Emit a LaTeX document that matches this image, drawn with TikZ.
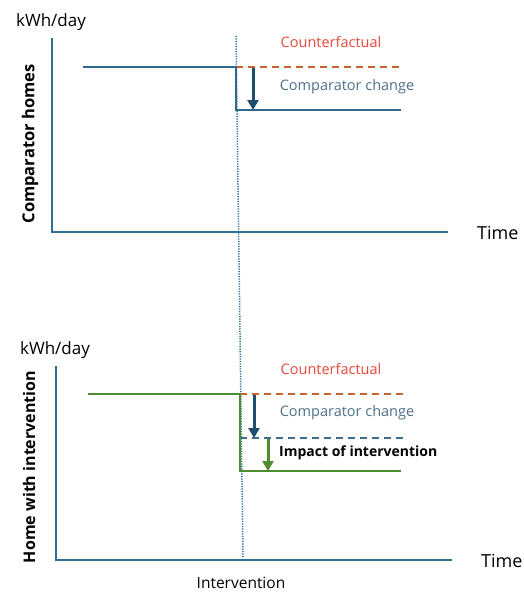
\documentclass[tikz,border=0pt]{standalone}
\usepackage{fontspec}
\setmainfont{Open Sans}
\usetikzlibrary{arrows.meta}
\definecolor{axisblue}{HTML}{2F6F94}
\definecolor{lineblue}{HTML}{2E6A8C}
\definecolor{darkblue}{HTML}{1E4E6C}
\definecolor{cfred}{HTML}{E8483C}
\definecolor{dashorange}{HTML}{C8632E}
\definecolor{compblue}{HTML}{4D7189}
\definecolor{dashblue}{HTML}{3D6E8E}
\definecolor{lgreen}{HTML}{4E8C2F}
\tikzset{
  axisline/.style={draw=axisblue, line width=2pt},
  seriesblue/.style={draw=lineblue, line width=2pt},
  seriesgreen/.style={draw=lgreen, line width=1.8pt},
  cfdash/.style={draw=dashorange, line width=2pt, dash pattern=on 7pt off 5pt},
  compdash/.style={draw=dashblue, line width=2pt, dash pattern=on 7pt off 5pt},
  darrow/.style={draw=darkblue, line width=3pt, -{Triangle[width=11pt,length=10pt]}},
  garrow/.style={draw=lgreen, line width=3pt, -{Triangle[width=11pt,length=10pt]}},
  ivline/.style={draw=axisblue, line width=1.5pt, dash pattern=on 1.2pt off 1.3pt},
  lbl/.style={inner sep=0pt, font=\fontsize{14.5}{17}\selectfont},
  unitlbl/.style={inner sep=0pt, font=\fontsize{17}{20}\selectfont},
  timelbl/.style={inner sep=0pt, font=\fontsize{18}{21}\selectfont},
  ylbl/.style={inner sep=0pt, rotate=90, font=\bfseries\fontsize{16.5}{19}\selectfont},
}
\begin{document}
\begin{tikzpicture}[x=1pt,y=-1pt]
\useasboundingbox[fill=white] (0,0) rectangle (523,594);
% intervention dotted line
\coordinate (ivtop) at (236,36);
\coordinate (ivbot) at (243,557);
\draw[ivline] (ivtop) -- (ivbot);
% ---------- top panel ----------
\coordinate (o1) at (52,232);
\coordinate (y1) at (52,38);
\coordinate (x1) at (448,232);
\draw[axisline] (y1) -- (o1) -- (x1);
\node[unitlbl] (u1) at (51,22) {kWh/day};
\node[timelbl, anchor=west] (t1) at (477,233) {Time};
\node[ylbl] (yl1) at (30,144) {Comparator homes};
\coordinate (a1) at (83,67);
\coordinate (a2) at (236,67);
\coordinate (a3) at (236,110);
\coordinate (a4) at (401,110);
\coordinate (c1) at (402,67);
\draw[cfdash] (a2) -- (c1);
\draw[seriesblue] (a1) -- (a2) -- (a3) -- (a4);
\coordinate (ar1s) at (253,68);
\coordinate (ar1e) at (253,110);
\draw[darrow] (ar1s) -- (ar1e);
\node[lbl, text=cfred] (cf1) at (331,42) {Counterfactual};
\node[lbl, text=compblue] (cc1) at (347,87) {Comparator change};
% ---------- bottom panel ----------
\coordinate (o2) at (56,560);
\coordinate (y2) at (56,366);
\coordinate (x2) at (452,560);
\draw[axisline] (y2) -- (o2) -- (x2);
\node[unitlbl] (u2) at (55,350) {kWh/day};
\node[timelbl, anchor=west] (t2) at (481,561) {Time};
\node[ylbl, font=\bfseries\fontsize{16}{19}\selectfont] (yl2) at (29,467) {Home with intervention};
\node[lbl, font=\fontsize{15.5}{18}\selectfont] (iv) at (241,583) {Intervention};
\coordinate (b1) at (88,394);
\coordinate (b2) at (240,394);
\coordinate (b3) at (240,471);
\coordinate (b4) at (401,471);
\coordinate (c2) at (406,394);
\coordinate (d1) at (240,438);
\coordinate (d2) at (406,438);
\draw[cfdash] (b2) -- (c2);
\draw[compdash] (d1) -- (d2);
\draw[seriesgreen] (b1) -- (b2) -- (b3) -- (b4);
\coordinate (ar2s) at (254,395);
\coordinate (ar2e) at (254,438);
\draw[darrow] (ar2s) -- (ar2e);
\coordinate (ar3s) at (268,439);
\coordinate (ar3e) at (268,471);
\draw[garrow] (ar3s) -- (ar3e);
\node[lbl, text=cfred] (cf2) at (331,369) {Counterfactual};
\node[lbl, text=compblue] (cc2) at (347,413) {Comparator change};
\node[lbl, anchor=west, font=\bfseries\fontsize{14}{17}\selectfont] (imp) at (279,453) {Impact of intervention};
\end{tikzpicture}
\end{document}
